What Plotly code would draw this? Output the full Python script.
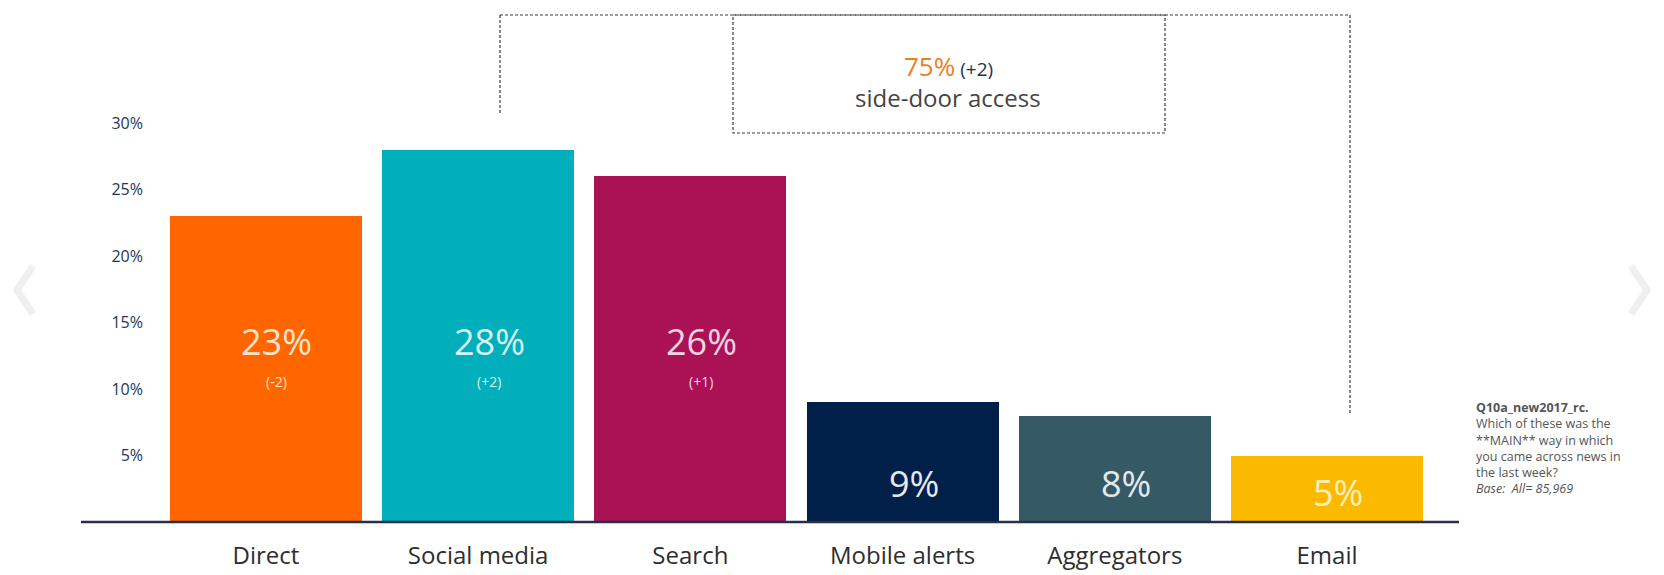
import plotly.graph_objects as go

# Main way people came across news in the last week
categories = ["Direct", "Social media", "Search", "Mobile alerts", "Aggregators", "Email"]
shares = [23, 28, 26, 9, 8, 5]
changes = ["(-2)", "(+2)", "(+1)", "", "", ""]
bar_colors = ["#ff6600", "#00afbb", "#ab1256", "#00204a", "#355a66", "#fbb900"]
label_colors = ["#fde3cc", "#d9f2f4", "#f3d3e1", "#e6e9ef", "#e3eaec", "#fdeeb8"]
y_ticks = [5, 10, 15, 20, 25, 30]
y_tick_text = ["5%", "10%", "15%", "20%", "25%", "30%"]

side_door_total = 75
side_door_change = "(+2)"
note_lines = [
    "<b>Q10a_new2017_rc.</b>",
    "Which of these was the",
    "**MAIN** way in which",
    "you came across news in",
    "the last week?",
    "<i>Base:  All= 85,969</i>",
]

W, H = 1664, 575
FONT = "Open Sans"

fig = go.Figure()
fig.add_trace(go.Bar(
    x=list(range(len(categories))),
    y=shares,
    width=0.905,
    marker=dict(color=bar_colors, line=dict(width=0)),
    hoverinfo="skip",
))

annotations = []
# value labels inside bars
for i, (v, ch) in enumerate(zip(shares, changes)):
    if ch:
        main_y = 13.6
    else:
        main_y = 2.2 if v < 6 else 2.9
    annotations.append(dict(
        x=i, y=main_y, xref="x", yref="y", text=f"{v}%", showarrow=False,
        xshift=11, font=dict(family=FONT, size=36, color=label_colors[i]),
        yanchor="middle",
    ))
    if ch:
        annotations.append(dict(
            x=i, y=10.6, xref="x", yref="y", text=ch, showarrow=False,
            xshift=11, font=dict(family=FONT, size=14, color=label_colors[i]),
            yanchor="middle",
        ))

# side-door access call-out
annotations.append(dict(
    x=948 / W, y=(H - 66) / H, xref="paper", yref="paper", showarrow=False,
    text=(f"<span style='color:#f07d22;font-size:26px'>{side_door_total}%</span>"
          f"<span style='color:#1f2f52;font-size:19px'> {side_door_change}</span>"),
    font=dict(family=FONT, size=19), yanchor="middle",
))
annotations.append(dict(
    x=948 / W, y=(H - 98) / H, xref="paper", yref="paper", showarrow=False,
    text="side-door access", font=dict(family=FONT, size=24, color="#444444"),
    yanchor="middle",
))

# question note
annotations.append(dict(
    x=1474 / W, y=(H - 397) / H, xref="paper", yref="paper", showarrow=False,
    text="<br>".join(note_lines), align="left", xanchor="left", yanchor="top",
    font=dict(family=FONT, size=12.5, color="#555555"),
))

dash_line = dict(color="#3a3a3a", width=1.2, dash="3px,2px")
shapes = [
    # bracket joining social media to email
    dict(type="line", xref="paper", yref="paper",
         x0=500 / W, x1=1350 / W, y0=(H - 15) / H, y1=(H - 15) / H, line=dash_line),
    dict(type="line", xref="paper", yref="paper",
         x0=500 / W, x1=500 / W, y0=(H - 15) / H, y1=(H - 114) / H, line=dash_line),
    dict(type="line", xref="paper", yref="paper",
         x0=1350 / W, x1=1350 / W, y0=(H - 15) / H, y1=(H - 414) / H, line=dash_line),
    # box around the total
    dict(type="rect", xref="paper", yref="paper",
         x0=733 / W, x1=1165 / W, y0=(H - 15) / H, y1=(H - 133) / H, line=dash_line),
    # baseline
    dict(type="line", xref="paper", yref="paper",
         x0=81 / W, x1=1459 / W, y0=(H - 522) / H, y1=(H - 522) / H,
         line=dict(color="#2a2f48", width=2.5)),
    # faint navigation chevrons
    dict(type="path", xref="paper", yref="paper",
         path=f"M {33/W},{(H-266)/H} L {17/W},{(H-290)/H} L {33/W},{(H-314)/H}",
         line=dict(color="#efeff3", width=7)),
    dict(type="path", xref="paper", yref="paper",
         path=f"M {1631/W},{(H-266)/H} L {1647/W},{(H-290)/H} L {1631/W},{(H-314)/H}",
         line=dict(color="#efeff3", width=7)),
]

fig.update_layout(
    width=W, height=H,
    margin=dict(l=0, r=0, t=0, b=0),
    paper_bgcolor="white", plot_bgcolor="white",
    showlegend=False,
    bargap=0,
    annotations=annotations,
    shapes=shapes,
    xaxis=dict(
        domain=[82 / W, 1459 / W],
        range=[-0.8667, 5.622],
        tickmode="array", tickvals=list(range(len(categories))), ticktext=categories,
        tickfont=dict(family=FONT, size=24, color="#2e2e2e"),
        showgrid=False, zeroline=False, showline=False, ticks="",
        ticklabelstandoff=17,
    ),
    yaxis=dict(
        domain=[(H - 522) / H, 1],
        range=[0, 522 / 13.3],
        anchor="free", position=143 / W,
        tickmode="array", tickvals=y_ticks, ticktext=y_tick_text,
        tickfont=dict(family=FONT, size=16, color="#22375a"),
        showgrid=False, zeroline=False, showline=False, ticks="",
    ),
)

fig.write_html("out.html")
